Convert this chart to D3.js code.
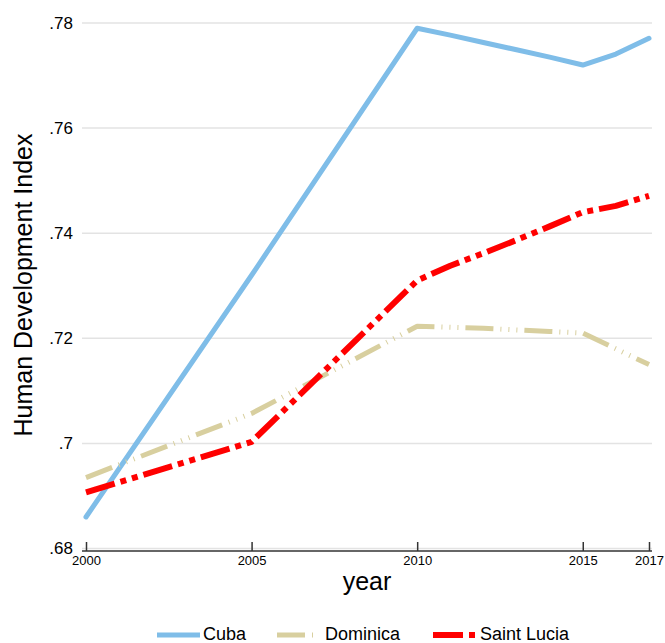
<!DOCTYPE html>
<html>
<head>
<meta charset="utf-8">
<script src="https://cdn.jsdelivr.net/npm/d3@7"></script>
<style>
  body { margin: 0; background: #fff; }
  svg text { font-family: "Liberation Sans", Arial, sans-serif; fill: #000; }
</style>
</head>
<body>
<div id="chart"></div>
<script>
// data
var years = [2000, 2005, 2010, 2011, 2012, 2013, 2014, 2015, 2016, 2017];
var cuba = [0.686, 0.732, 0.779, 0.7777, 0.7763, 0.7749, 0.7735, 0.772, 0.7741, 0.7771];
var dominica = [0.6935, 0.7057, 0.7223, 0.7221, 0.7219, 0.7216, 0.7213, 0.721, 0.718, 0.715];
var saintLucia = [0.6907, 0.7003, 0.731, 0.7338, 0.7362, 0.7387, 0.7413, 0.744, 0.7452, 0.7471];
var xTicks = [2000, 2005, 2010, 2015, 2017];
var yTicks = [0.68, 0.70, 0.72, 0.74, 0.76, 0.78];
var yTickLabels = [".68", ".7", ".72", ".74", ".76", ".78"];
var seriesNames = ["Cuba", "Dominica", "Saint Lucia"];

var w = 665, h = 643;
var svg = d3.select("div#chart").append("svg")
  .attr("width", w).attr("height", h)
  .attr("viewBox", "0 0 " + w + " " + h);

var x = d3.scaleLinear().domain([2000, 2017]).range([86, 649]);
var y = d3.scaleLinear().domain([0.68, 0.78]).range([548.5, 23]);

var series = [
  {name: seriesNames[0], values: cuba, color: "#7fbde8", width: 5, dash: null, cap: "round"},
  {name: seriesNames[1], values: dominica, color: "#d8cf9f", width: 5, dash: "28,7,1,7,1,7,1,7", cap: "butt"},
  {name: seriesNames[2], values: saintLucia, color: "#ff0000", width: 6, dash: "30,6,6,6,6,6", cap: "butt"}
];

// gridlines
svg.append("g").selectAll("line")
  .data(yTicks)
  .enter().append("line")
  .attr("x1", 82).attr("x2", 652)
  .attr("y1", function(d) { return y(d); })
  .attr("y2", function(d) { return y(d); })
  .attr("stroke", "#e3e3e3")
  .attr("stroke-width", 1.5);

// y tick labels (no axis line)
var yAxis = d3.axisLeft(y).tickValues(yTicks).tickSize(0).tickPadding(0)
  .tickFormat(function(d, i) { return yTickLabels[i]; });
var gy = svg.append("g").attr("transform", "translate(73,0)").call(yAxis);
gy.select(".domain").remove();
gy.selectAll("text")
  .style("font-family", "Liberation Sans, Arial, sans-serif")
  .style("font-size", "17px")
  .attr("fill", "#000");

// x axis with upward ticks
var xAxis = d3.axisBottom(x).tickValues(xTicks).tickSize(-9).tickPadding(5)
  .tickFormat(d3.format("d"));
var gx = svg.append("g").attr("transform", "translate(0,551)").call(xAxis);
gx.select(".domain").attr("d", "M82,0H652").attr("stroke", "#333").attr("stroke-width", 1.5);
gx.selectAll(".tick line").attr("stroke", "#333").attr("stroke-width", 1.5);
gx.selectAll("text")
  .style("font-family", "Liberation Sans, Arial, sans-serif")
  .style("font-size", "13px")
  .attr("fill", "#222");

// axis titles
svg.append("text")
  .attr("x", 367).attr("y", 590)
  .attr("text-anchor", "middle")
  .style("font-size", "25px")
  .text("year");

svg.append("text")
  .attr("transform", "translate(32,285) rotate(-90)")
  .attr("text-anchor", "middle")
  .style("font-size", "25px")
  .text("Human Development Index");

// lines
var line = d3.line()
  .x(function(d, i) { return x(years[i]); })
  .y(function(d) { return y(d); });

svg.append("g").selectAll("path")
  .data(series)
  .enter().append("path")
  .attr("d", function(d) { return line(d.values); })
  .attr("fill", "none")
  .attr("stroke", function(d) { return d.color; })
  .attr("stroke-width", function(d) { return d.width; })
  .attr("stroke-dasharray", function(d) { return d.dash; })
  .attr("stroke-linecap", function(d) { return d.cap; })
  .attr("stroke-linejoin", "round");

// legend
var legX = [157, 277, 433];
var leg = svg.append("g").selectAll("g")
  .data(series)
  .enter().append("g")
  .attr("transform", function(d, i) { return "translate(" + legX[i] + ",635)"; });

leg.append("line")
  .attr("x1", 0).attr("x2", 43)
  .attr("y1", 0).attr("y2", 0)
  .attr("stroke", function(d) { return d.color; })
  .attr("stroke-width", function(d) { return d.width; })
  .attr("stroke-dasharray", function(d) { return d.dash; });

leg.append("text")
  .attr("x", function(d, i) { return [46, 48, 47][i]; })
  .attr("y", 5)
  .style("font-size", "18px")
  .text(function(d) { return d.name; });
</script>
</body>
</html>
